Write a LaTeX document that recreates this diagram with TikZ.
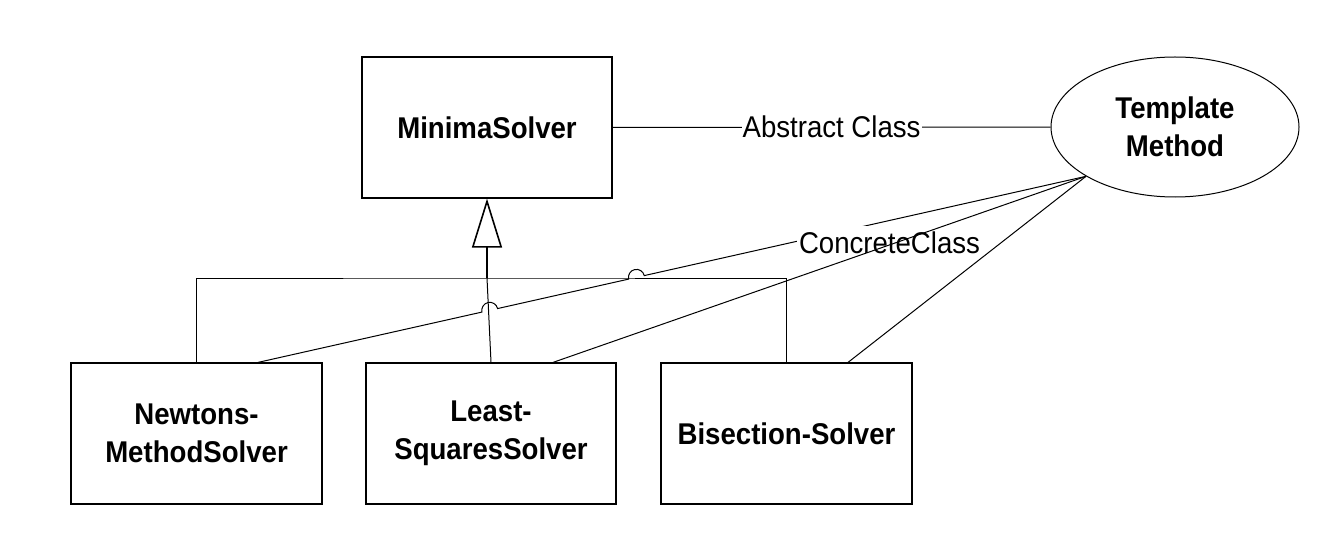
\documentclass[tikz,border=0pt]{standalone}
\usepackage{fontspec}
\setmainfont{Liberation Sans}[FakeStretch=0.92]
\usetikzlibrary{arrows.meta,calc,shapes.geometric}
\begin{document}
\begin{tikzpicture}[x=1pt,y=-1pt,
  classbox/.style={draw,line width=1.2pt,minimum width=250pt,minimum height=141pt,inner sep=0pt,align=center,font=\fontsize{30}{38}\selectfont\bfseries},
  patternell/.style={draw,ellipse,line width=1pt,minimum width=248pt,minimum height=140pt,inner sep=0pt,align=center,font=\fontsize{30}{38}\selectfont\bfseries},
  conn/.style={line width=1pt},
  lbl/.style={fill=white,font=\fontsize{30}{34}\selectfont,inner sep=1pt}]
\useasboundingbox (0,0) rectangle (1332,548);
\fill[white] (0,0) rectangle (1332,548);

\node[classbox] (minima) at (487,127.5) {MinimaSolver};
\node[patternell] (tm) at (1175,127) {Template\\Method};
\node[classbox,minimum width=251pt] (newton) at (196.5,433.5) {Newtons-\\MethodSolver};
\node[classbox] (least) at (491,433.5) {Least-\\SquaresSolver};
\node[classbox,minimum width=251pt] (bisect) at (786.5,433.5) {Bisection-Solver};

\coordinate (tmP) at (tm.209.6);
\coordinate (nA) at ($(newton.north)+(61.5,0)$);
\coordinate (lA) at ($(least.north)+(62,0)$);
\coordinate (bA) at ($(bisect.north)+(61.5,0)$);
\coordinate (j) at (487,278);

\draw[conn] (minima) -- node[lbl]{Abstract Class} (tm);
\draw[conn] (newton.north) |- (j) -| (bisect.north);
\draw[conn] (least.north) -- (j);
\draw[line width=1.6pt,-{Triangle[open,length=49pt,width=30pt]}] (j) -- (minima.south);

\draw[conn] (nA) -- ($(nA)!0.2705!(tmP)$)
  arc[start angle=192.65,end angle=12.65,radius=8pt]
  -- ($(nA)!0.4476!(tmP)$)
  arc[start angle=192.65,end angle=12.65,radius=8pt]
  -- (tmP);
\node[lbl,anchor=base,text height=25pt,inner sep=2pt] (cc) at (889.5,253) {ConcreteClass};
\draw[conn] (lA) -- (tmP);
\draw[conn] (bA) -- (tmP);
\end{tikzpicture}
\end{document}
